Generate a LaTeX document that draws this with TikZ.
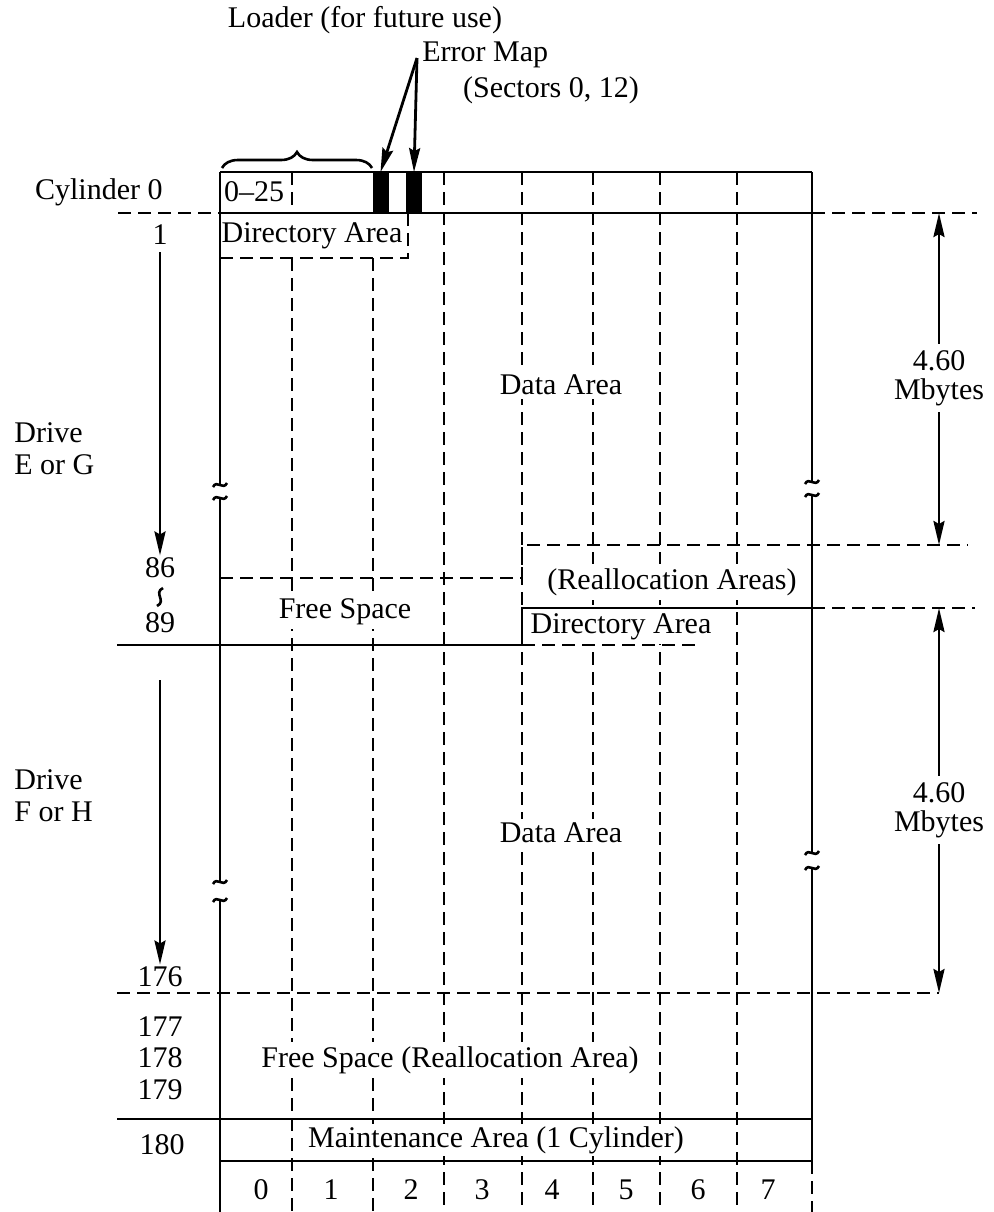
\documentclass[tikz,border=0pt]{standalone}
\usepackage{fontspec}
\setmainfont{Liberation Serif}
\usepackage{tikz}
\usetikzlibrary{arrows.meta,positioning,calc,decorations.pathreplacing}

\tikzset{
    % Base text style
    basetext/.style={
        inner sep=1pt,
        font=\fontsize{15}{16}\selectfont,
        align=center
    },
    % Text inside the grid (hides the rules behind it)
    areatext/.style={
        basetext,
        fill=white,
        inner sep=2pt
    },
    % Dimension text
    dimtext/.style={
        basetext,
        font=\fontsize{15}{14.5}\selectfont,
        inner sep=3pt
    },
    % Solid rule
    solidline/.style={
        line width=1.4pt,
        draw=black
    },
    % Dashed rule
    dashline/.style={
        line width=1.3pt,
        draw=black,
        dash pattern=on 6.5pt off 3.5pt
    },
    % Arrow style
    myarrow/.style={
        -{Stealth[length=12pt,width=5.5pt,inset=1.5pt]},
        line width=1.4pt,
        draw=black
    },
    % Black sector mark
    barnode/.style={
        draw=black,
        fill=black,
        minimum width=7.5pt,
        minimum height=20pt,
        inner sep=0pt
    },
    % Break mark
    breakline/.style={
        line width=1.3pt,
        draw=black
    }
}

% tilde break mark on a vertical rule
\newcommand{\brkmark}[2]{%
    \draw[breakline] (#1-7,#2+2) .. controls (#1-3,#2-6) and (#1+3,#2+6) .. (#1+7,#2-2);}

\begin{document}
\begin{tikzpicture}[x=0.5pt, y=-0.5pt]
        \useasboundingbox (0,0) rectangle (994,1212);

        % Column rules
        \foreach \cx in {444,522,593,660,737}
            \draw[dashline] (\cx,172) -- (\cx,1212);
        \draw[dashline] (292,172) -- (292,213);
        \foreach \cx in {292,373}
            \draw[dashline] (\cx,258) -- (\cx,1212);

        % Cylinder 0 row
        \draw[solidline] (220,172) -- (812,172);
        \draw[solidline] (220,213) -- (812,213);
        \draw[dashline] (118,213) -- (220,213);
        \draw[dashline] (812,213) -- (977,213);
        \draw[dashline] (220,258) -- (408,258) -- (408,213);

        % Drive E or G / Drive F or H boundary
        \draw[dashline] (220,578) -- (522,578) -- (522,545) -- (968,545);
        \draw[solidline] (117,645) -- (522,645) -- (522,608) -- (812,608);
        \draw[dashline] (812,608) -- (975,608);
        \draw[dashline] (522,645) -- (697,645) -- (697,638);

        % Lower rules
        \draw[dashline] (117,993) -- (939,993);
        \draw[solidline] (117,1119) -- (812,1119);
        \draw[solidline] (220,1161) -- (812,1161);

        % Outer edges with breaks
        \draw[solidline] (220,172) -- (220,485);
        \draw[solidline] (220,498) -- (220,882);
        \draw[solidline] (220,900) -- (220,1212);
        \draw[solidline] (812,172) -- (812,482);
        \draw[solidline] (812,495) -- (812,853);
        \draw[solidline] (812,868) -- (812,1161);
        \draw[dashline] (812,1161) -- (812,1212);
        \brkmark{220}{485}
        \brkmark{220}{498}
        \brkmark{220}{882}
        \brkmark{220}{900}
        \brkmark{812}{482}
        \brkmark{812}{495}
        \brkmark{812}{853}
        \brkmark{812}{868}

        % Loader and error map
        \node[barnode] (bar1) at (380.5,192.5) {};
        \node[barnode] (bar2) at (414,192.5) {};
        \draw[decorate, decoration={brace, amplitude=8pt}, line width=1.3pt] (222,168) -- (372,168);
        \node[basetext] (loader) at (365,20) {Loader (for future use)};
        \node[basetext, anchor=west] (emap) at (420,55) {Error Map};
        \node[basetext] (sect) at (551,90) {(Sectors 0, 12)};
        \coordinate (empt) at (417,58);
        \draw[myarrow] (empt) -- (bar1.north);
        \draw[myarrow] (empt) -- (bar2.north);

        % Area texts
        \node[basetext] (sec025) at (254,192) {0--25};
        \node[basetext] (dir1) at (312,236) {Directory Area};
        \node[areatext] (data1) at (561,385) {Data Area};
        \node[areatext] (realloc1) at (672,582) {(Reallocation Areas)};
        \node[areatext] (free1) at (345,612) {Free Space};
        \node[areatext] (dir2) at (621,627) {Directory Area};
        \node[areatext] (data2) at (561,833) {Data Area};
        \node[areatext] (free2) at (450,1060) {Free Space (Reallocation Area)};
        \node[areatext, inner sep=1pt] (maint) at (496,1140) {Maintenance Area (1 Cylinder)};

        % Sector numbers
        \foreach \cx/\cn in {261/0,331/1,411/2,482/3,552/4,626/5,698/6,768/7}
            \node[basetext] (col\cn) at (\cx,1190) {\cn};

        % Cylinder labels
        \node[basetext, anchor=east] (cyl0) at (165,192) {Cylinder 0};
        \node[basetext] (c1) at (160,235) {1};
        \node[basetext] (c86) at (160,568) {86};
        \node[basetext] (c89) at (160,623) {89};
        \draw[breakline] (163,588) .. controls (153,593) and (167,601) .. (157,606);
        \node[basetext] (c176) at (160,977) {176};
        \node[basetext] (c177) at (160,1027) {177};
        \node[basetext] (c178) at (160,1058) {178};
        \node[basetext] (c179) at (160,1090) {179};
        \node[basetext] (c180) at (162,1145) {180};
        \node[basetext, anchor=west, align=left] (drv1) at (12,449) {Drive\\E or G};
        \node[basetext, anchor=west, align=left] (drv2) at (12,796) {Drive\\F or H};

        % Cylinder arrows
        \coordinate (a2start) at (160,680);
        \draw[myarrow, shorten <=2.5pt] (c1) -- (c86);
        \draw[myarrow] (a2start) -- (c176);

        % Size arrows
        \node[dimtext] (mb1) at (939,378) {4.60\\Mbytes};
        \coordinate (mb1top) at (939,213);
        \coordinate (mb1bot) at (939,545);
        \draw[myarrow] (mb1) -- (mb1top);
        \draw[myarrow] (mb1) -- (mb1bot);
        \node[dimtext] (mb2) at (939,810) {4.60\\Mbytes};
        \coordinate (mb2top) at (939,608);
        \coordinate (mb2bot) at (939,993);
        \draw[myarrow] (mb2) -- (mb2top);
        \draw[myarrow] (mb2) -- (mb2bot);
\end{tikzpicture}
\end{document}
